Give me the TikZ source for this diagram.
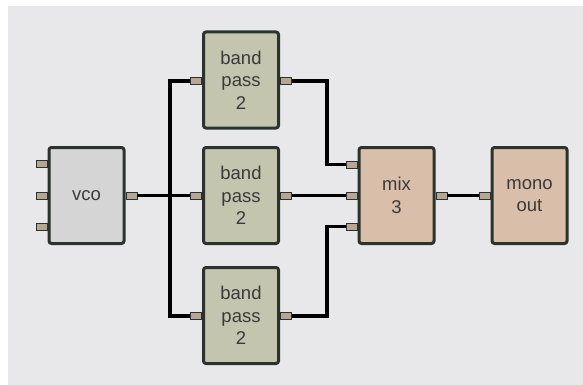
\documentclass[tikz,border=0pt]{standalone}
\usepackage{fontspec}
\setmainfont{Liberation Sans}
\usetikzlibrary{calc}
\definecolor{bgc}{HTML}{E8E8EA}
\definecolor{edgec}{HTML}{2C322D}
\definecolor{vcoc}{HTML}{D5D5D5}
\definecolor{bpc}{HTML}{C3C5AF}
\definecolor{mixc}{HTML}{D9BEAA}
\definecolor{portc}{HTML}{B6A794}
\definecolor{txtc}{HTML}{3A3A3A}
\tikzset{
  module/.style={draw=edgec, line width=3pt, rounded corners=2.5pt, minimum width=75pt, minimum height=96pt, inner sep=0pt, align=center, text=txtc, font=\fontsize{18.5}{22.5}\selectfont},
  vcobox/.style={module, fill=vcoc},
  bpbox/.style={module, fill=bpc},
  mixbox/.style={module, fill=mixc},
  port/.style={draw=edgec, line width=0.8pt, fill=portc, minimum width=11pt, minimum height=7pt, inner sep=0pt},
  wire/.style={line width=3.3pt, black}
}
\begin{document}
\begin{tikzpicture}[x=1pt, y=-1pt]
\useasboundingbox (0,0) rectangle (583,385);
\fill[white] (0,0) rectangle (583,385);
\fill[bgc] (8,6) rectangle (583,385);

\coordinate (split) at (170,195.5);
\coordinate (rt) at (327,0);

% modules
\node[vcobox] (vco) at (86.5,195.5) {vco};
\node[bpbox] (bpt) at (241,80) {band\\pass\\2};
\node[bpbox] (bpm) at (241,195.5) {band\\pass\\2};
\node[bpbox] (bpb) at (241,315.5) {band\\pass\\2};
\node[mixbox] (mix) at (396.5,195.5) {mix\\3};
\node[mixbox] (mono) at (529.5,195.5) {mono\\out};

% ports
\node[port] (vcoin1) at ($(vco.west)+(-6,-32)$) {};
\node[port] (vcoin2) at ($(vco.west)+(-6,0)$) {};
\node[port] (vcoin3) at ($(vco.west)+(-6,31)$) {};
\node[port] (vcoout) at ($(vco.east)+(6,0)$) {};
\node[port] (bptin) at ($(bpt.west)+(-6,1)$) {};
\node[port] (bptout) at ($(bpt.east)+(6,1)$) {};
\node[port] (bpmin) at ($(bpm.west)+(-6,0)$) {};
\node[port] (bpmout) at ($(bpm.east)+(6,0)$) {};
\node[port] (bpbin) at ($(bpb.west)+(-6,0.5)$) {};
\node[port] (bpbout) at ($(bpb.east)+(6,0.5)$) {};
\node[port] (mixin1) at ($(mix.west)+(-6,-31)$) {};
\node[port] (mixin2) at ($(mix.west)+(-6,0)$) {};
\node[port] (mixin3) at ($(mix.west)+(-6,31)$) {};
\node[port] (mixout) at ($(mix.east)+(6,0)$) {};
\node[port] (monoin) at ($(mono.west)+(-6,0)$) {};

% connectors
\draw[wire] (vcoout.east) -- (bpmin.west);
\draw[wire] (bptin.west) -| (split) |- (bpbin.west);
\draw[wire] (bptout.east) -| (rt |- mixin1) -- (mixin1.west);
\draw[wire] (bpmout.east) -- (mixin2.west);
\draw[wire] (bpbout.east) -| (rt |- mixin3) -- (mixin3.west);
\draw[wire] (mixout.east) -- (monoin.west);
\end{tikzpicture}
\end{document}
